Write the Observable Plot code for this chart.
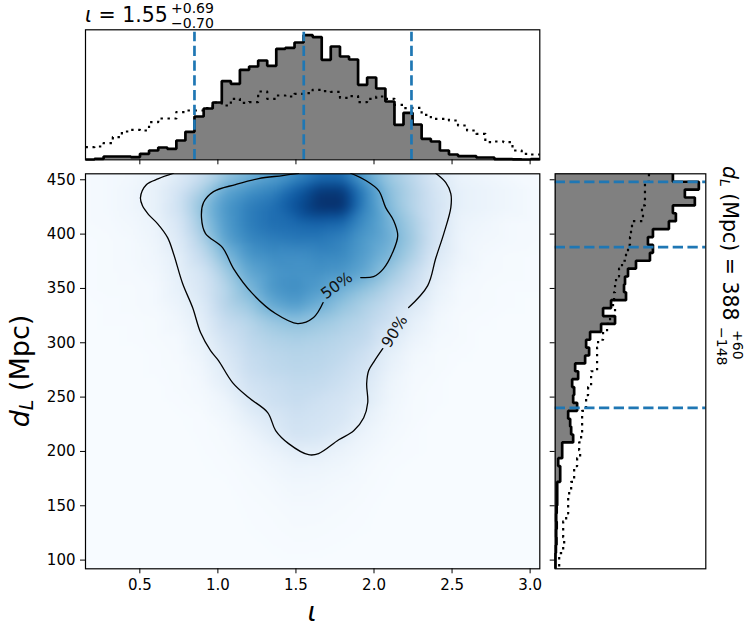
<!DOCTYPE html>
<html>
<head>
<meta charset="utf-8">
<script src="https://cdn.jsdelivr.net/npm/d3@7"></script>
<script src="https://cdn.jsdelivr.net/npm/@observablehq/plot@0.6"></script>
<style>
  body { margin: 0; background: white; }
  #fig { position: relative; width: 753px; height: 635px; overflow: hidden; font-family: "DejaVu Sans"; }
  #fig svg { position: absolute; overflow: visible; }
</style>
</head>
<body>
<div id="fig"></div>
<script>
const iotaEdges = [0.152,0.210,0.268,0.327,0.385,0.443,0.501,0.559,0.618,0.676,0.734,0.792,0.850,0.909,0.967,1.025,1.083,1.141,1.200,1.258,1.316,1.374,1.432,1.491,1.549,1.607,1.665,1.723,1.782,1.840,1.898,1.956,2.014,2.073,2.131,2.189,2.247,2.305,2.364,2.422,2.480,2.538,2.596,2.655,2.713,2.771,2.829,2.887,2.946,3.004,3.062];
const iotaPosterior = [0.3,1,3.3,3.3,3.3,2.7,6,9.3,12.3,11,19.3,28,43.3,51.3,57.3,78.7,76,90,93.3,99.3,94,111,112,117.3,124.7,122.7,100,113.3,103.3,100.3,75,82.3,71.3,58.3,35,47,35.3,21,18.3,9.3,5.3,3.7,3.7,2.3,2.3,0.7,0.7,0.5,0.3,0.7];
const iotaPrior = [12.7,13.3,16.7,22.7,28.3,30,29.3,37.7,41.3,41.3,47.7,49.3,49.3,51.7,57.3,54.3,61,57,57.7,68.3,61,64.3,63.3,66,66.7,70,68.7,68,62,63.7,57.7,61,63.3,61,55,51.7,52,45,41,41,39.3,34.3,29.3,26,17.7,18.3,17.7,9.3,6,5.3];
const iotaQuantiles = [0.85,1.55,2.24];

const dlEdges = [455.5,448.2,441,433.7,426.4,419.2,411.9,404.6,397.3,390.1,382.8,375.5,368.3,361,353.7,346.5,339.2,331.9,324.6,317.4,310.1,302.8,295.6,288.3,281,273.8,266.5,259.2,251.9,244.7,237.4,230.1,222.9,215.6,208.3,201.1,193.8,186.5,179.2,172,164.7,157.4,150.2,142.9,135.6,128.4,121.1,113.8,106.5,99.3,92];
const dlPosterior = [118,144,130,140,118,121,114,98,93,98,95,81,73,70,69,71,56,48,60,46,35,31,34,30,20,23,17,19,18,22,13,15,16,18,7,7,3,5,5,2,2,2,1.5,1,1.5,1,1.3,0.7,0.3,0.3];
const dlPrior = [94,90,90,90,87,88,77,76,75,73,71,67,64,61,60,59,58,60,55,52,48,43,42,42,42,36,36,33,31,31,27,27,27,26,24,25,22,19,19,16,14,13,13,11,8,8,9,8,4,4];
const dlQuantiles = [448,388,240];

const iotaTicks = [0.5,1,1.5,2,2.5,3];
const dlTicks = [100,150,200,250,300,350,400,450];

// density, one row per dL value
const gridIota = [0.15,0.3,0.45,0.6,0.75,0.9,1.05,1.2,1.35,1.5,1.65,1.8,1.95,2.1,2.25,2.4,2.55,2.7,2.85,3.07];
const gridDl = [456,440,425,410,395,380,365,350,335,320,305,290,275,260,245,230,215,200,185,170,150,130,110,91];
const density = [
  [.01,.02,.03,.06,.12,.22,.36,.45,.54,.62,.72,.72,.52,.36,.26,.14,.06,.04,.02,.01],
  [.01,.02,.04,.08,.18,.34,.54,.62,.68,.82,.97,.97,.66,.42,.30,.17,.08,.06,.04,.01],
  [.01,.02,.04,.08,.20,.42,.60,.70,.76,.88,1,1,.66,.44,.30,.18,.08,.06,.04,.01],
  [.01,.015,.03,.06,.16,.38,.58,.70,.76,.78,.80,.78,.62,.48,.34,.18,.06,.04,.02,.01],
  [.005,.01,.02,.05,.13,.32,.55,.66,.70,.72,.72,.68,.58,.50,.36,.17,.05,.03,.02,.01],
  [.005,.01,.02,.04,.10,.25,.45,.60,.64,.63,.66,.65,.56,.46,.32,.14,.05,.02,.01,.005],
  [.005,.01,.015,.03,.09,.18,.36,.53,.60,.62,.62,.60,.52,.38,.25,.10,.03,.015,.01,.005],
  [.005,.01,.01,.02,.08,.16,.30,.46,.60,.64,.58,.49,.40,.30,.20,.07,.02,.01,.005,.005],
  [0,.005,.01,.02,.06,.13,.30,.38,.52,.58,.49,.40,.32,.24,.14,.05,.015,.01,.005,0],
  [0,.005,.005,.01,.04,.10,.24,.30,.38,.42,.38,.33,.28,.20,.09,.03,.01,.005,0,0],
  [0,0,.005,.01,.02,.08,.19,.27,.32,.34,.32,.29,.25,.14,.06,.02,.01,0,0,0],
  [0,0,0,.005,.015,.06,.15,.24,.28,.30,.29,.26,.20,.09,.03,.01,.005,0,0,0],
  [0,0,0,.005,.01,.04,.12,.22,.26,.28,.27,.23,.17,.07,.02,.01,0,0,0,0],
  [0,0,0,0,.01,.025,.09,.18,.22,.25,.24,.20,.14,.05,.015,.005,0,0,0,0],
  [0,0,0,0,.005,.015,.05,.14,.20,.23,.20,.17,.12,.04,.01,.005,0,0,0,0],
  [0,0,0,0,.002,.005,.03,.09,.15,.20,.18,.15,.08,.03,.01,0,0,0,0,0],
  [0,0,0,0,0,.005,.015,.05,.11,.18,.16,.11,.05,.02,.005,0,0,0,0,0],
  [0,0,0,0,0,.003,.01,.03,.06,.10,.09,.06,.03,.01,.005,0,0,0,0,0],
  [0,0,0,0,0,.002,.005,.015,.035,.055,.05,.035,.015,.005,0,0,0,0,0,0],
  [0,0,0,0,0,0,.002,.01,.02,.035,.03,.02,.01,.003,0,0,0,0,0,0],
  [0,0,0,0,0,0,0,.005,.01,.02,.018,.012,.005,0,0,0,0,0,0,0],
  [0,0,0,0,0,0,0,.003,.006,.012,.01,.006,.003,0,0,0,0,0,0,0],
  [0,0,0,0,0,0,0,0,.003,.005,.004,.002,0,0,0,0,0,0,0,0],
  [0,0,0,0,0,0,0,0,0,0,0,0,0,0,0,0,0,0,0,0]
];

// contour lines, split where the labels sit
const outerLeftIota = [.716,.62,.543,.504,.517,.556,.613,.678,.716,.774,.838,.889,.953,1.004,1.094,1.197,1.319,1.37,1.453,1.581,1.645,1.774,1.87,1.934,1.96,1.953,1.966,2.004,2.056];
const outerLeftDl = [456,451,445.6,433.6,426,418,409.7,396.8,382,354.5,332.4,309.4,292.8,283.6,263.4,249.6,235.8,219.2,207.2,197,198,210.7,219,231,245,262.4,274.4,283.6,294.6];
const outerRightIota = [2.222,2.344,2.395,2.447,2.492,2.492,2.46,2.395];
const outerRightDl = [332.4,352.6,377.5,400.5,424.4,437.3,447.4,456];
const innerLeftIota = [1.517,1.415,1.261,1.113,.972,.908,.895,.921,1.03,1.10,1.222,1.369,1.511,1.613,1.674];
const innerLeftDl = [456,453.9,451.1,445.6,439.1,429,415.2,400.5,387.6,368.3,345.2,326.9,317.7,323.3,337];
const innerRightIota = [1.915,1.997,2.061,2.119,2.152,2.126,2.075,2.03,1.947,1.851];
const innerRightDl = [360,360.9,368.3,383,398.6,412.4,424.4,440,449.3,456];

const iotaDomain = [0.152,3.062];
const dlDomain = [92,455.5];
const blue = "#1f77b4";
const fontFamily = "DejaVu Sans";
const histLine = {stroke: "black", strokeWidth: 2.7, strokeLinecap: "butt", strokeLinejoin: "miter"};
const priorLine = {stroke: "black", strokeWidth: 2.2, strokeLinecap: "butt", strokeDasharray: "2.4,4.6"};
const quantileLine = {stroke: blue, strokeWidth: 2.7, strokeLinecap: "butt", strokeDasharray: "10.3,4.45"};

const fig = d3.select("#fig");
const place = (chart, left, top) => {
  chart.style.left = left + "px";
  chart.style.top = top + "px";
  fig.append(() => chart);
};
const steps = (edges, values) => edges.map((e, i) => ({edge: e, value: values[Math.min(i, values.length - 1)]}));
const points = (xs, ys) => xs.map((x, i) => [x, ys[i]]);
const cells = gridDl.flatMap((dl, r) => gridIota.map((iota, c) => ({iota, dl, v: density[r][c]})));

const contour = (xs, ys) => Plot.line(points(xs, ys), {stroke: "black", strokeWidth: 1.3, curve: "catmull-rom", clip: true});

const topChart = Plot.plot({
  width: 545, height: 170,
  marginLeft: 85, marginRight: 5.7, marginTop: 29.3, marginBottom: 10.7,
  style: {fontFamily, background: "transparent"},
  x: {domain: iotaDomain},
  y: {domain: [0,130], axis: null},
  marks: [
    Plot.areaY(steps(iotaEdges, iotaPosterior), {x: "edge", y: "value", curve: "step-after", fill: "gray"}),
    Plot.lineY(steps(iotaEdges, iotaPosterior), {x: "edge", y: "value", curve: "step-after", ...histLine}),
    Plot.lineY(steps(iotaEdges, iotaPrior), {x: "edge", y: "value", curve: "step-after", ...priorLine}),
    Plot.ruleX(iotaQuantiles, {y1: 0, y2: 127.5, ...quantileLine}),
    Plot.axisX({ticks: iotaTicks, tickSize: 5, text: null, label: null, strokeOpacity: 1}),
    Plot.frame({stroke: "black", strokeWidth: 1.2})
  ]
});
place(topChart, 0, 0);

const mainChart = Plot.plot({
  width: 545, height: 470,
  marginLeft: 85, marginRight: 5.7, marginTop: 8.3, marginBottom: 66.7,
  style: {fontFamily, background: "transparent"},
  x: {domain: iotaDomain},
  y: {domain: dlDomain},
  color: {scheme: "blues", domain: [0,1]},
  marks: [
    Plot.raster(cells, {x: "iota", y: "dl", fill: "v", interpolate: "barycentric", pixelSize: 2, blur: 2}),
    contour(outerLeftIota, outerLeftDl),
    contour(outerRightIota, outerRightDl),
    contour(innerLeftIota, innerLeftDl),
    contour(innerRightIota, innerRightDl),
    Plot.text(["50%"], {x: [1.761], y: [352.6], text: d => d, rotate: -36, fontSize: 15.5, fill: "#111"}),
    Plot.text(["90%"], {x: [2.133], y: [310.3], text: d => d, rotate: -58, fontSize: 15.5, fill: "#111"}),
    Plot.axisX({ticks: iotaTicks, tickSize: 5, tickPadding: 6, fontSize: 15, label: null, tickFormat: d3.format(".1f")}),
    Plot.axisY({ticks: dlTicks, tickSize: 5, tickPadding: 5, fontSize: 15, label: null}),
    Plot.frame({stroke: "black", strokeWidth: 1.2})
  ]
});
place(mainChart, 0, 165);

const rightChart = Plot.plot({
  width: 165, height: 410,
  marginLeft: 9.7, marginRight: 4.7, marginTop: 8.3, marginBottom: 6.7,
  style: {fontFamily, background: "transparent"},
  x: {domain: [0,151], axis: null},
  y: {domain: dlDomain},
  marks: [
    Plot.areaX(steps(dlEdges, dlPosterior), {y: "edge", x: "value", curve: "step-before", fill: "gray"}),
    Plot.lineX(steps(dlEdges, dlPosterior), {y: "edge", x: "value", curve: "step-before", ...histLine}),
    Plot.lineX(steps(dlEdges, dlPrior), {y: "edge", x: "value", curve: "step-before", ...priorLine}),
    Plot.ruleY(dlQuantiles, {x1: 0, x2: 151, ...quantileLine}),
    Plot.axisY({ticks: dlTicks, tickSize: 5, text: null, label: null}),
    Plot.frame({stroke: "black", strokeWidth: 1.2})
  ]
});
place(rightChart, 545, 165);

// titles and axis labels, placed by baseline
const labels = fig.append("svg").attr("width", 753).attr("height", 635).style("left", "0").style("top", "0")
  .attr("font-family", fontFamily).attr("fill", "black");

labels.append("text").attr("x", 85).attr("y", 22).attr("font-size", 20.5)
  .html('<tspan font-style="italic">ι</tspan> = 1.55');
labels.append("text").attr("x", 171).attr("y", 13).attr("font-size", 14).text("+0.69");
labels.append("text").attr("x", 171).attr("y", 28).attr("font-size", 14).text("−0.70");

labels.append("text").attr("x", 312).attr("y", 621).attr("font-size", 27)
  .attr("text-anchor", "middle").attr("font-style", "italic").text("ι");

labels.append("text").attr("transform", "translate(29,371) rotate(-90)").attr("font-size", 27)
  .attr("text-anchor", "middle")
  .html('<tspan font-style="italic">d</tspan><tspan font-style="italic" font-size="19" dy="4">L</tspan><tspan dy="-4"> (Mpc)</tspan>');

const rightTitle = labels.append("g").attr("transform", "translate(723,166) rotate(90)");
rightTitle.append("text").attr("font-size", 20.5)
  .html('<tspan font-style="italic">d</tspan><tspan font-style="italic" font-size="14" dy="3">L</tspan><tspan dy="-3"> (Mpc) = 388</tspan>');
rightTitle.append("text").attr("x", 164).attr("y", -10).attr("font-size", 14).text("+60");
rightTitle.append("text").attr("x", 161).attr("y", 6).attr("font-size", 14).text("−148");
</script>
</body>
</html>
